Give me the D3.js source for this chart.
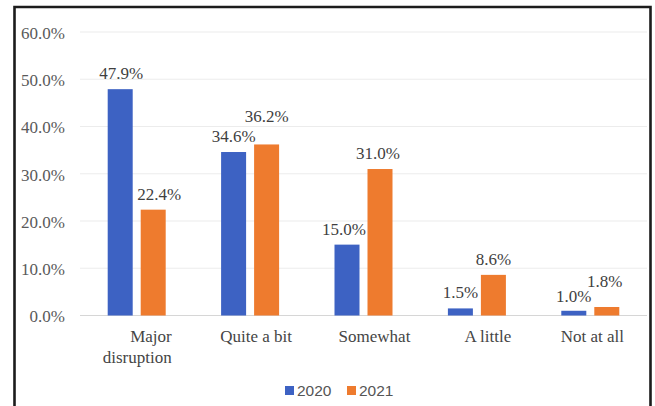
<!DOCTYPE html>
<html>
<head>
<meta charset="utf-8">
<script src="https://cdn.jsdelivr.net/npm/d3@7"></script>
<style>
  html, body { margin: 0; padding: 0; background: #fff; }
  svg { display: block; }
  svg text.serif { font-family: "Liberation Serif", "Times New Roman", Times, serif; }
  svg text.sans { font-family: "Liberation Sans", Arial, sans-serif; }
</style>
</head>
<body>
<svg id="chart" width="655" height="406"></svg>
<script>
// Level of disruption reported, share of respondents (%)
const categories = ["Major disruption", "Quite a bit", "Somewhat", "A little", "Not at all"];
const seriesNames = ["2020", "2021"];
const values2020 = [47.9, 34.6, 15.0, 1.5, 1.0];
const values2021 = [22.4, 36.2, 31.0, 8.6, 1.8];
const yTicks = [0, 10, 20, 30, 40, 50, 60];

// Manual nudges for value labels that are shifted to avoid crowding: [dx, dy]
const nudge2020 = [[1, 0], [0, 0], [-3, 0], [0, 0], [0, 1]];
const nudge2021 = [[6, 0], [0, -12], [-2, 0], [0, 0], [-2, -10]];
// Horizontal nudges for category labels
const catDx = [0, 6, 11, 11, 2];

const colors = { "2020": "#3d62c3", "2021": "#ee7b2e" };

const svg = d3.select("#chart");

// Frame around the chart (open at the bottom)
svg.append("path")
  .attr("d", "M14.5,410 V7 H650.5 V410")
  .attr("fill", "none")
  .attr("stroke", "#1c1c1c")
  .attr("stroke-width", 2.6);

const plot = { left: 80, right: 647, top: 32, bottom: 315.5 };

const x = d3.scaleBand()
  .domain(categories)
  .range([plot.left, plot.right])
  .padding(0);

const y = d3.scaleLinear()
  .domain([0, 60])
  .range([plot.bottom, plot.top]);

// Sub-band for the two years inside each category
const groupWidth = 58;
const xSub = d3.scaleBand()
  .domain(seriesNames)
  .range([x.bandwidth() / 2 - groupWidth / 2, x.bandwidth() / 2 + groupWidth / 2])
  .paddingInner(8 / 33)
  .paddingOuter(0);

// Gridlines
svg.append("g")
  .selectAll("line")
  .data(yTicks)
  .join("line")
  .attr("x1", plot.left)
  .attr("x2", plot.right)
  .attr("y1", d => y(d))
  .attr("y2", d => y(d))
  .attr("stroke", d => d === 0 ? "#d6d6d6" : "#ececec")
  .attr("stroke-width", 1.2);

// Y axis labels
const yAxis = d3.axisLeft(y)
  .tickValues(yTicks)
  .tickSize(0)
  .tickPadding(0)
  .tickFormat(d => d3.format(".1f")(d) + "%");

const yg = svg.append("g")
  .attr("transform", "translate(65,1)")
  .call(yAxis)
  .attr("font-family", null)
  .attr("font-size", null);
yg.select(".domain").remove();
yg.selectAll("text")
  .attr("class", "serif")
  .style("font-size", "17px")
  .attr("fill", "#5a5a5a");

// Bars
const rows = categories.map((c, i) => ({
  cat: c,
  i,
  vals: [
    { key: "2020", v: values2020[i], n: nudge2020[i] },
    { key: "2021", v: values2021[i], n: nudge2021[i] }
  ]
}));

const groups = svg.append("g")
  .selectAll("g")
  .data(rows)
  .join("g")
  .attr("transform", d => `translate(${x(d.cat)},0)`);

groups.selectAll("rect")
  .data(d => d.vals)
  .join("rect")
  .attr("x", d => xSub(d.key))
  .attr("width", xSub.bandwidth())
  .attr("y", d => y(d.v))
  .attr("height", d => y(0) - y(d.v))
  .attr("fill", d => colors[d.key]);

// Value labels
groups.selectAll("text.val")
  .data(d => d.vals)
  .join("text")
  .attr("class", "val serif")
  .attr("x", d => xSub(d.key) + xSub.bandwidth() / 2 + d.n[0])
  .attr("y", d => y(d.v) - 10 + d.n[1])
  .attr("text-anchor", "middle")
  .style("font-size", "17px")
  .attr("fill", "#3f3f3f")
  .text(d => d3.format(".1f")(d.v) + "%");

// Category labels (the first one wraps onto two lines)
const catG = svg.append("g");
categories.forEach((c, i) => {
  const cx = x(c) + x.bandwidth() / 2 + catDx[i];
  if (c === "Major disruption") {
    const t = catG.append("text")
      .attr("class", "serif")
      .attr("text-anchor", "end")
      .style("font-size", "17px")
      .attr("fill", "#454545");
    t.append("tspan").attr("x", cx + 35).attr("y", 342).text("Major");
    t.append("tspan").attr("x", cx + 35).attr("y", 363).text("disruption");
  } else {
    catG.append("text")
      .attr("class", "serif")
      .attr("x", cx)
      .attr("y", 342)
      .attr("text-anchor", "middle")
      .style("font-size", "17px")
      .attr("fill", "#454545")
      .text(c);
  }
});

// Legend
const legendX = d3.scaleOrdinal().domain(seriesNames).range([285, 347]);
const legend = svg.append("g");
seriesNames.forEach(s => {
  legend.append("rect")
    .attr("x", legendX(s))
    .attr("y", 386)
    .attr("width", 9)
    .attr("height", 9)
    .attr("fill", colors[s]);
  legend.append("text")
    .attr("class", "sans")
    .attr("x", legendX(s) + 12)
    .attr("y", 396)
    .style("font-size", "15.5px")
    .attr("fill", "#555")
    .text(s);
});
</script>
</body>
</html>
